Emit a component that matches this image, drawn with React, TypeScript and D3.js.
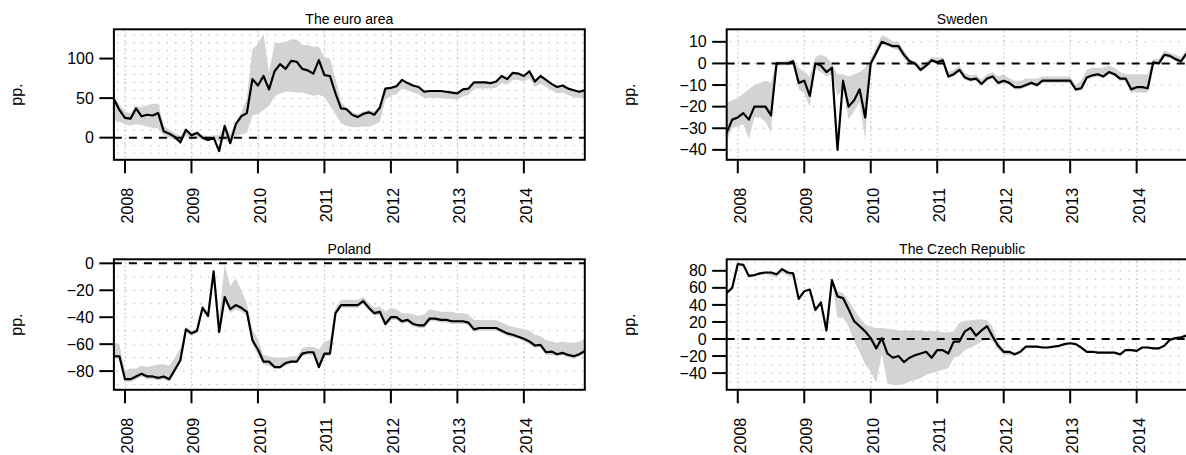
import React from 'react';
import * as d3 from 'd3';

// Monthly observations, Nov 2007 .. Dec 2014 (86 months)
const START_YEAR = 2007;
const START_MONTH = 10; // November (0-based)
const N_MONTHS = 86;
const yearTicks = [2008, 2009, 2010, 2011, 2012, 2013, 2014];

// ---- The euro area ----
const euroLine = [49, 35, 25, 24, 37, 27, 29, 28, 31, 8, 5, 1, -6, 10, 3, 6, 0, -3, 0, -17, 15, -7, 17, 27, 31, 74, 66, 78, 61, 84, 93, 87, 97, 96, 87, 85, 81, 98, 79, 78, 56, 37, 36, 29, 26, 30, 32, 29, 38, 62, 63, 65, 73, 69, 66, 64, 58, 59, 59, 59, 58, 57, 56, 61, 62, 70, 70, 70, 69, 71, 78, 74, 82, 81, 78, 84, 71, 78, 73, 68, 64, 66, 62, 60, 58, 60];
const euroUpper = [50, 42, 33, 31, 40, 38, 41, 43, 43, 15, 10, 6, 2, 11, 6, 8, 3, 2, 3, 3, 16, 5, 20, 32, 50, 112, 118, 131, 83, 119, 120, 121, 124, 124, 117, 117, 115, 115, 102, 100, 75, 45, 38, 32, 30, 33, 35, 33, 40, 63, 64, 66, 74, 70, 67, 65, 60, 60, 60, 60, 59, 58, 57, 62, 63, 71, 71, 71, 70, 72, 79, 75, 83, 82, 79, 85, 73, 79, 74, 69, 65, 67, 63, 61, 59, 61];
const euroLower = [22, 20, 17, 15, 17, 16, 14, 12, 12, 3, 0, -3, -6, 2, -1, 0, -3, -4, -3, -5, -3, -7, 2, 4, 6, 28, 30, 35, 40, 52, 56, 58, 58, 57, 57, 55, 53, 54, 52, 40, 30, 18, 15, 13, 13, 14, 14, 16, 20, 48, 53, 55, 62, 60, 57, 55, 50, 50, 50, 50, 49, 49, 48, 52, 54, 62, 62, 62, 62, 63, 69, 67, 73, 73, 71, 75, 64, 68, 64, 60, 56, 57, 54, 51, 50, 50];
const euroDomain = [-28, 137];
const euroTicks = [0, 50, 100];

// ---- Sweden ----
const sweLine = [-32, -26, -25, -23, -26, -20, -20, -20, -24, 0, 0, 0, 1, -9, -8, -15, 0, -1, -4, -2, -40, -8, -20, -17, -12, -25, 0, 5, 10, 9, 8, 8, 4, 1, 0, -3, -1, 1.5, 0.5, 1.5, -6, -5, -3, -6.5, -7.5, -7, -9.5, -7, -6, -9, -8, -9, -11, -11, -10, -9, -10, -8, -8, -8, -8, -8, -8, -12, -11.5, -6.5, -5.5, -5, -6, -4, -5, -7, -7, -12, -11, -11, -11.5, 0.5, 0, 4, 3.5, 2, 1, 4.5, 5, 4];
const sweUpper = [-18, -17, -16, -14, -12, -10, -9, -8, -9, 1, 1, 1.5, 2, -2, -4, -6, 3, 4, 3, 0, -5, -5, -6, -5, -4, -2, 2, 8, 13, 12, 10, 10, 6, 2, 1, -1, 1, 3, 2.5, 3, -4, -3, -1, -4.5, -5.5, -5, -7.5, -5, -4, -6, -5, -7, -8, -8, -7, -7, -7, -6, -6, -6, -6, -6, -6, -10, -8, -3, -2, -2, -2, -1, -2, -4, -5, -5, -5, -5, -5, 2, 2, 6, 5, 4, 3, 6, 6, 5];
const sweLower = [-36, -30, -29, -28, -35, -25, -25, -27, -32, -1, -1, -1, 0, -12, -14, -20, -2, -4, -6, -5, -15, -12, -26, -22, -18, -35, -1, 3, 9, 8, 7, 6, 2, 0, -1, -4, -2, 0.5, -0.5, 0.5, -7, -6, -4, -7.5, -8.5, -8, -10.5, -8, -7, -10, -9, -10, -12, -12, -11, -10, -11, -9, -9, -9, -9, -9, -9, -13, -12.5, -7.5, -6.5, -6, -7, -5, -6, -8, -8, -13.5, -13.5, -13.5, -13.5, -0.5, -1, 3, 2.5, 1, 0, 3.5, 4, 3];
const sweDomain = [-44.6, 15.8];
const sweTicks = [-40, -30, -20, -10, 0, 10];

// ---- Poland ----
const polLine = [-69, -69, -86, -86, -84, -82, -84, -84, -85, -84, -86, -79, -72, -49, -52, -50, -33, -39, -6, -51, -25, -34, -31, -33, -36, -57, -64, -73, -73, -77, -77, -74, -73, -73, -67, -66, -66, -77, -67, -67, -37, -31, -31, -31, -31, -28, -33, -37, -36, -45, -40, -40, -43, -42, -45, -46, -46, -41, -41, -42, -42, -43, -43, -43, -44, -49, -48, -48, -48, -48, -50, -52, -53, -54.5, -56, -58, -61, -60.5, -66, -65.5, -67.5, -66.5, -68, -69, -67.5, -65];
const polUpper = [-59, -60, -80, -78, -78, -76, -77, -76, -75, -75, -76, -70, -63, -47, -50, -48, -31, -37, -5, -40, -1, -17, -11, -20, -30, -49, -56, -68, -69, -70, -70, -70, -69, -69, -63, -62, -62, -64, -58, -57, -33, -27, -27, -27, -27, -25, -29, -33, -32, -36, -33, -34, -37, -37, -38, -39, -38, -34, -35, -36, -36, -36, -37, -37, -38, -42, -42, -42, -42, -42, -44, -46, -47, -48, -49, -50, -53, -54, -57, -58, -59, -58, -59, -59, -58, -56];
const polLower = [-71, -71, -88, -88, -86, -84, -86, -86, -87, -86, -88, -81, -74, -51, -54, -52, -35, -41, -8, -53, -28, -37, -34, -36, -39, -60, -68, -75, -76, -78, -78, -76, -74, -74, -69, -68, -68, -79, -69, -69, -39, -33, -33, -33, -33, -30, -35, -39, -38, -47, -42, -42, -45, -44, -47, -48, -48, -43, -43, -44, -44, -45, -45, -45, -46, -51, -50, -50, -50, -50, -52, -54, -55, -56, -58, -60, -63, -62, -68, -68, -69, -68, -70, -71, -69, -67];
const polDomain = [-93.9, 3];
const polTicks = [-80, -60, -40, -20, 0];

// ---- The Czech Republic ----
const czeLine = [54, 60, 88, 87, 74, 75, 77, 78, 78, 76, 82, 78, 77, 47, 56, 58, 34, 43, 10, 69, 50, 48, 35, 21, 15, 9, 1, -11, 1, -17, -22, -20, -27, -22, -19, -17, -15, -22, -13, -13, -17, -3, -3, 9, 13, 4, 10, 15, 3, -8, -15, -15, -18, -15, -9, -9, -9, -10, -10, -9, -8, -6, -5, -6, -10, -15, -15, -16, -16, -16, -16, -18, -13, -13, -14, -10, -10, -11, -11, -8, -1, 1, 2, 4, 5, 6];
const czeUpper = [56, 61, 89, 88, 75, 76, 78, 79, 79, 77, 83, 79, 78, 48, 57, 59, 35, 44, 11, 70, 56, 54, 45, 35, 25, 17, 14, 13, 13, 12, 11, 10, 10, 10, 10, 10, 9, 9, 9, 8, 8, 9, 19, 21, 22, 23, 23, 22, 14, -3, -13, -14, -16, -14, -8, -8, -8, -9, -9, -8, -7, -5, -4, -5, -9, -14, -14, -15, -15, -15, -15, -17, -12, -12, -13, -9, -9, -10, -10, -7, 0, 2, 3, 5, 6, 7];
const czeLower = [52, 58, 86, 85, 72, 73, 75, 76, 74, 72, 78, 74, 73, 46, 55, 57, 33, 42, 9, 68, 25, 25, 15, -3, -15, -30, -38, -52, -17, -52, -54, -54, -53, -50, -48, -46, -42, -40, -38, -36, -34, -22, -20, -13, -10, -7, -3, 1, -3, -12, -19, -19, -20, -17, -10, -10, -10, -11, -11, -10, -9, -7, -6, -7, -11, -16, -16, -17, -17, -17, -17, -19, -14, -14, -15, -11, -11, -12, -12, -9, -2, 0, 1, 3, 4, 5];
const czeDomain = [-59.6, 93.5];
const czeTicks = [-40, -20, 0, 20, 40, 60, 80];

const FONT = "'Liberation Sans', Arial, Helvetica, sans-serif";
const PW = 470.9;
const PH = 130.5;

// decimal time for each month
const times = d3.range(N_MONTHS).map((i) => START_YEAR + (START_MONTH + i) / 12);

type PanelSpec = {
  title: string;
  line: number[];
  upper: number[];
  lower: number[];
  domain: number[];
  ticks: number[];
  left: number;
  top: number;
};

const panels: PanelSpec[] = [
  { title: 'The euro area', line: euroLine, upper: euroUpper, lower: euroLower, domain: euroDomain, ticks: euroTicks, left: 113.9, top: 29.3 },
  { title: 'Sweden', line: sweLine, upper: sweUpper, lower: sweLower, domain: sweDomain, ticks: sweTicks, left: 726.7, top: 29.3 },
  { title: 'Poland', line: polLine, upper: polUpper, lower: polLower, domain: polDomain, ticks: polTicks, left: 113.9, top: 259.3 },
  { title: 'The Czech Republic', line: czeLine, upper: czeUpper, lower: czeLower, domain: czeDomain, ticks: czeTicks, left: 726.7, top: 259.3 },
];

function Panel({ p }: { p: PanelSpec }) {
  const x = d3.scaleLinear().domain([times[0], times[N_MONTHS - 1]]).range([p.left, p.left + PW]);
  const y = d3.scaleLinear().domain(p.domain).range([p.top + PH, p.top]);
  const area = d3
    .area<number>()
    .x((_, i) => x(times[i]))
    .y0((_, i) => y(p.lower[i]))
    .y1((_, i) => y(p.upper[i]));
  const line = d3
    .line<number>()
    .x((_, i) => x(times[i]))
    .y((d) => y(d));
  const gridRows = d3.range(Math.ceil(p.domain[0] / 10) * 10, p.domain[1], 10);
  const bottom = p.top + PH;
  return (
    <g>
      {/* dotted grid */}
      {gridRows.map((g) => (
        <line key={'h' + g} x1={p.left + 3} x2={p.left + PW} y1={y(g)} y2={y(g)} stroke="#c4c4c4" strokeWidth={1.3} strokeDasharray="1.3 7" />
      ))}
      {yearTicks.map((yr) => (
        <line key={'v' + yr} x1={x(yr)} x2={x(yr)} y1={p.top + 2} y2={bottom} stroke="#c4c4c4" strokeWidth={1.3} strokeDasharray="1.3 3" />
      ))}
      {/* confidence band */}
      <path d={area(p.line) || ''} fill="#d3d3d3" stroke="none" />
      {/* zero line */}
      <line x1={p.left} x2={p.left + PW} y1={y(0)} y2={y(0)} stroke="#000" strokeWidth={2} strokeDasharray="8 7" />
      {/* main series */}
      <path d={line(p.line) || ''} fill="none" stroke="#000" strokeWidth={2.2} strokeLinejoin="round" />
      {/* box */}
      <rect x={p.left} y={p.top} width={PW} height={PH} fill="none" stroke="#000" strokeWidth={2} />
      {/* title */}
      <text x={p.left + PW / 2} y={p.top - 5} textAnchor="middle" fontSize={14} fontFamily={FONT}>
        {p.title}
      </text>
      {/* y axis */}
      {p.ticks.map((t) => (
        <g key={'yt' + t}>
          <line x1={p.left - 14.5} x2={p.left} y1={y(t)} y2={y(t)} stroke="#000" strokeWidth={2} />
          <text x={p.left - 20} y={y(t)} dy="0.35em" textAnchor="end" fontSize={16} fontFamily={FONT}>
            {t < 0 ? '\u2212' + Math.abs(t) : String(t)}
          </text>
        </g>
      ))}
      <text transform={`translate(${p.left - 92},${p.top + PH / 2}) rotate(-90)`} textAnchor="middle" fontSize={16} fontFamily={FONT}>
        pp.
      </text>
      {/* x axis */}
      {yearTicks.map((yr) => (
        <g key={'xt' + yr}>
          <line x1={x(yr)} x2={x(yr)} y1={bottom} y2={bottom + 13.5} stroke="#000" strokeWidth={2} />
          <text transform={`translate(${x(yr)},${bottom + 28}) rotate(-90)`} dy={8} textAnchor="end" fontSize={16} fontFamily={FONT}>
            {yr}
          </text>
        </g>
      ))}
    </g>
  );
}

export default function App() {
  return (
    <svg width={1186} height={455} viewBox="0 0 1186 455" style={{ position: 'absolute', left: 0, top: 0, background: '#fff' }}>
      <rect x={0} y={0} width={1186} height={455} fill="#fff" />
      {panels.map((p) => (
        <Panel key={p.title} p={p} />
      ))}
    </svg>
  );
}
